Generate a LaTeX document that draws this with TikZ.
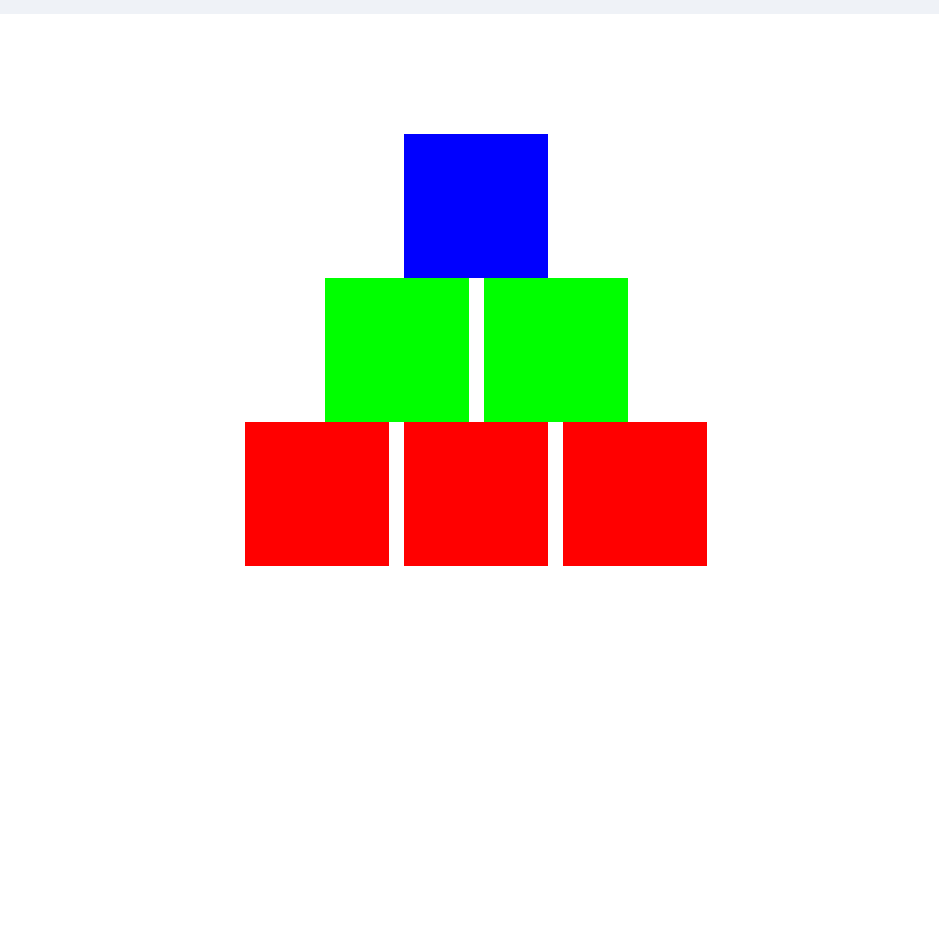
\documentclass[tikz,border=0pt]{standalone}
\usepackage{tikz}
\definecolor{barGray}{RGB}{239,242,247}
\definecolor{pureGreen}{RGB}{0,255,0}
\tikzset{block/.style={minimum width=72pt, minimum height=72pt, inner sep=0pt, outer sep=0pt}}

\begin{document}
\begin{tikzpicture}[x=0.5pt, y=-0.5pt]
 \useasboundingbox (0,0) rectangle (939,945);
 \fill[barGray] (0,0) rectangle (939,14);

 \node[block, fill=blue]      (top) at (476, 206)   {};
 \node[block, fill=pureGreen] (g1)  at (396.5, 350) {};
 \node[block, fill=pureGreen] (g2)  at (555.5, 350) {};
 \node[block, fill=red]       (r1)  at (317, 494)   {};
 \node[block, fill=red]       (r2)  at (476, 494)   {};
 \node[block, fill=red]       (r3)  at (635, 494)   {};
\end{tikzpicture}
\end{document}
